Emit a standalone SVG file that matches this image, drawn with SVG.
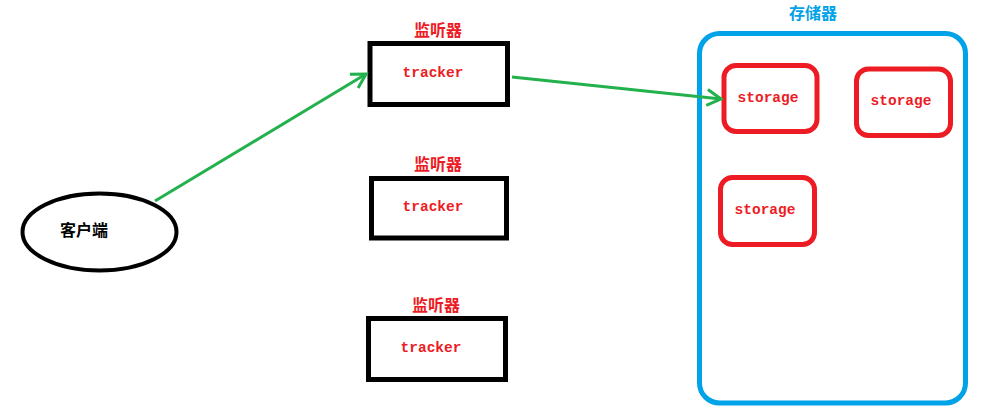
<svg xmlns="http://www.w3.org/2000/svg" width="996" height="416" viewBox="0 0 996 416">
<style>
.trk{fill:none;stroke:#000;stroke-width:5}
.sto{fill:none;stroke:#ED1C24;stroke-width:5}
.cn{font-family:"Noto Sans CJK SC","Noto Sans",sans-serif;font-size:16px;font-weight:bold;text-anchor:middle}
.mono{font-family:"Liberation Mono","Courier New",monospace;font-size:14.5px;font-weight:bold;fill:#ED1C24;text-anchor:middle}
.red{fill:#ED1C24}
.edge{fill:none;stroke:#22B14C;stroke-width:3}
</style>
<defs>
<marker id="ah" viewBox="0 0 20 20" refX="16" refY="10" markerWidth="20" markerHeight="20" markerUnits="userSpaceOnUse" orient="auto">
<path d="M2,2 L16,10 L2,18" fill="none" stroke="#22B14C" stroke-width="3"/>
</marker>
</defs>
<rect width="996" height="416" fill="#fff"/>
<g id="client">
<ellipse cx="99.5" cy="232" rx="77" ry="38.5" fill="none" stroke="#000" stroke-width="4"/>
<text x="84" y="236" class="cn" fill="#000">客户端</text>
</g>
<g id="tracker1">
<text x="438" y="36" class="cn red">监听器</text>
<rect x="370" y="43.5" width="137.5" height="61" class="trk"/>
<text x="433" y="77" class="mono">tracker</text>
</g>
<g id="tracker2">
<text x="438" y="170" class="cn red">监听器</text>
<rect x="371.5" y="178.5" width="135" height="59.5" class="trk"/>
<text x="433" y="211" class="mono">tracker</text>
</g>
<g id="tracker3">
<text x="436" y="311" class="cn red">监听器</text>
<rect x="368.5" y="318.5" width="137" height="61" class="trk"/>
<text x="431" y="352" class="mono">tracker</text>
</g>
<g id="storage-group">
<text x="813" y="19" class="cn" fill="#00A2E8">存储器</text>
<rect x="699.5" y="33.5" width="266" height="369.5" rx="20" fill="none" stroke="#00A2E8" stroke-width="5"/>
</g>
<g id="storage1">
<rect x="724" y="65.5" width="93" height="66" rx="12" class="sto"/>
<text x="768" y="102" class="mono">storage</text>
</g>
<g id="storage2">
<rect x="856.5" y="69" width="94" height="66.5" rx="12" class="sto"/>
<text x="901" y="105" class="mono">storage</text>
</g>
<g id="storage3">
<rect x="720.5" y="177.5" width="94" height="67" rx="12" class="sto"/>
<text x="765" y="214" class="mono">storage</text>
</g>
<g id="connectors">
<line x1="155" y1="201" x2="366" y2="74" class="edge" marker-end="url(#ah)"/>
<line x1="512" y1="77" x2="721" y2="99" class="edge" marker-end="url(#ah)"/>
</g>
</svg>
